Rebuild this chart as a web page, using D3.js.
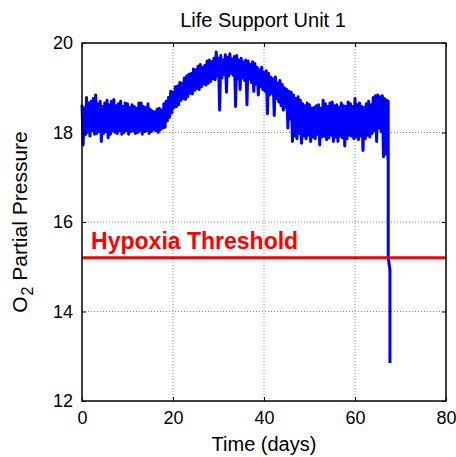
<!DOCTYPE html>
<html>
<head>
<meta charset="utf-8">
<script src="https://cdn.jsdelivr.net/npm/d3@7"></script>
<style>
  html, body { margin: 0; padding: 0; background: #fff; }
  svg { display: block; }
  text { font-family: "Liberation Sans", Arial, sans-serif; }
</style>
</head>
<body>
<div id="chart"></div>
<script>
// ---------------- data ----------------
const titleText = "Life Support Unit 1";
const xLabel = "Time (days)";
const xTicks = [0, 20, 40, 60, 80];
const yTicks = [12, 14, 16, 18, 20];
const xDomain = [0, 80];
const yDomain = [12, 20];

// O2 partial pressure, one sample every 0.25 day starting at day 0
const sampleStep = 0.25;
const o2Samples = [
  18.62, 17.72, 18.55, 17.95,  18.78, 18.00, 18.66, 17.92,  // d0-1
  18.70, 18.04, 18.76, 17.96,  18.84, 17.98, 18.64, 18.02,  // d2-3
  18.70, 17.80, 18.58, 17.98,  18.66, 18.02, 18.72, 17.88,  // d4-5
  18.62, 17.96, 18.70, 18.04,  18.74, 18.00, 18.60, 17.98,  // d6-7
  18.64, 18.04, 18.70, 17.96,  18.58, 18.00, 18.66, 18.04,  // d8-9
  18.64, 17.96, 18.56, 18.02,  18.62, 18.04, 18.58, 17.98,  // d10-11
  18.54, 18.00, 18.66, 18.04,  18.66, 17.96, 18.58, 18.02,  // d12-13
  18.56, 18.04, 18.64, 17.98,  18.52, 18.02, 18.48, 18.06,  // d14-15
  18.46, 18.04, 18.52, 18.00,  18.54, 18.06, 18.50, 18.10,  // d16-17
  18.64, 18.12, 18.70, 18.26,  18.78, 18.34, 18.92, 18.44,  // d18-19
  18.90, 18.56, 19.02, 18.58,  19.04, 18.62, 19.12, 18.72,  // d20-21
  19.10, 18.76, 19.22, 18.74,  19.26, 18.80, 19.30, 18.88,  // d22-23
  19.32, 18.86, 19.42, 18.94,  19.40, 18.98, 19.48, 18.96,  // d24-25
  19.52, 19.02, 19.46, 19.08,  19.50, 19.06, 19.60, 19.10,  // d26-27
  19.62, 19.14, 19.58, 19.20,  19.66, 19.18, 19.80, 19.26,  // d28-29
  19.66, 18.50, 19.72, 19.22,  19.62, 19.30, 19.74, 18.90,  // d30-31
  19.68, 19.26, 19.76, 19.32,  19.64, 19.28, 19.70, 18.58,  // d32-33
  19.72, 19.20, 19.62, 18.96,  19.66, 19.22, 19.58, 19.16,  // d34-35
  19.62, 18.62, 19.60, 19.20,  19.52, 19.12, 19.58, 18.92,  // d36-37
  19.54, 19.08, 19.46, 18.84,  19.40, 19.02, 19.46, 18.96,  // d38-39
  19.34, 18.92, 19.38, 18.42,  19.32, 18.84, 19.24, 18.88,  // d40-41
  19.20, 18.38, 19.24, 18.76,  19.10, 18.68, 19.16, 18.60,  // d42-43
  19.08, 18.50, 19.00, 18.56,  18.96, 18.10, 18.92, 18.30,  // d44-45
  18.90, 17.80, 18.84, 17.92,  18.76, 17.86, 18.80, 17.98,  // d46-47
  18.72, 17.76, 18.64, 17.92,  18.60, 17.86, 18.66, 17.94,  // d48-49
  18.62, 17.80, 18.54, 17.90,  18.56, 17.86, 18.60, 17.96,  // d50-51
  18.62, 17.72, 18.54, 17.90,  18.72, 17.92, 18.64, 17.84,  // d52-53
  18.58, 17.88, 18.66, 17.94,  18.68, 17.80, 18.60, 17.90,  // d54-55
  18.62, 17.80, 18.56, 17.92,  18.66, 17.88, 18.60, 17.70,  // d56-57
  18.58, 17.86, 18.68, 17.94,  18.64, 17.92, 18.58, 17.86,  // d58-59
  18.76, 17.90, 18.62, 17.84,  18.66, 17.92, 18.58, 17.60,  // d60-61
  18.56, 17.86, 18.64, 17.94,  18.70, 17.90, 18.62, 17.98,  // d62-63
  18.78, 18.04, 18.82, 17.80,  18.84, 18.10, 18.80, 18.02,  // d64-65
  18.82, 17.46, 18.76, 17.52,  18.72, 17.40                 // d66-67
];
// final failure drop
const dropDays = [67.3, 67.3, 67.68, 67.68];
const dropO2   = [18.70, 15.20, 14.93, 12.85];

const thresholdValue = 15.2;
const thresholdLabel = "Hypoxia Threshold";

// ---------------- layout ----------------
const W = 456, H = 457;
const margin = { top: 43, right: 10, bottom: 56, left: 82 };
const iw = W - margin.left - margin.right;
const ih = H - margin.top - margin.bottom;

const series = o2Samples.map((v, i) => ({ t: i * sampleStep, v }))
  .concat(dropDays.map((t, i) => ({ t, v: dropO2[i] })));

const svg = d3.select("#chart").append("svg")
  .attr("width", W).attr("height", H);

const x = d3.scaleLinear().domain(xDomain).range([margin.left, margin.left + iw]);
const y = d3.scaleLinear().domain(yDomain).range([margin.top + ih, margin.top]);

// grid
const grid = svg.append("g").attr("class", "grid");
grid.selectAll("line.gx").data(xTicks.slice(1, -1)).enter().append("line")
  .attr("x1", d => x(d)).attr("x2", d => x(d))
  .attr("y1", margin.top).attr("y2", margin.top + ih)
  .attr("stroke", "#8c8c8c").attr("stroke-width", 1).attr("stroke-dasharray", "1,2");
grid.selectAll("line.gy").data(yTicks.slice(1, -1)).enter().append("line")
  .attr("y1", d => y(d)).attr("y2", d => y(d))
  .attr("x1", margin.left).attr("x2", margin.left + iw)
  .attr("stroke", "#8c8c8c").attr("stroke-width", 1).attr("stroke-dasharray", "1,2");

// data line
const line = d3.line().x(d => x(d.t)).y(d => y(d.v));
svg.append("path").datum(series)
  .attr("d", line)
  .attr("fill", "none")
  .attr("stroke", "#0000ff")
  .attr("stroke-width", 3)
  .attr("stroke-linejoin", "round");

// threshold
svg.append("line")
  .attr("x1", x(xDomain[0])).attr("x2", x(xDomain[1]))
  .attr("y1", y(thresholdValue)).attr("y2", y(thresholdValue))
  .attr("stroke", "#ff0000").attr("stroke-width", 3);
svg.append("text")
  .attr("x", x(2)).attr("y", y(thresholdValue) - 9)
  .attr("fill", "#ff0000")
  .attr("font-weight", "bold")
  .attr("font-size", "23px")
  .text(thresholdLabel);

// axes (ticks inward, all four sides)
const tickLen = 4;
const xAxisB = d3.axisBottom(x).tickValues(xTicks).tickSize(-tickLen).tickPadding(10).tickFormat(d3.format("d"));
const xAxisT = d3.axisTop(x).tickValues(xTicks).tickSize(-tickLen).tickFormat("");
const yAxisL = d3.axisLeft(y).tickValues(yTicks).tickSize(-tickLen).tickPadding(9).tickFormat(d3.format("d"));
const yAxisR = d3.axisRight(y).tickValues(yTicks).tickSize(-tickLen).tickFormat("");

function styleAxis(g) {
  g.select(".domain").remove();
  g.selectAll(".tick line").attr("stroke", "#000").attr("stroke-width", 1);
  g.selectAll(".tick text").attr("fill", "#000").attr("font-size", "18px")
    .attr("font-family", '"Liberation Sans", Arial, sans-serif');
}
svg.append("g").attr("transform", `translate(0,${margin.top + ih})`).call(xAxisB).call(styleAxis);
svg.append("g").attr("transform", `translate(0,${margin.top})`).call(xAxisT).call(styleAxis);
svg.append("g").attr("transform", `translate(${margin.left},0)`).call(yAxisL).call(styleAxis);
svg.append("g").attr("transform", `translate(${margin.left + iw},0)`).call(yAxisR).call(styleAxis);

// box
svg.append("rect")
  .attr("x", margin.left).attr("y", margin.top)
  .attr("width", iw).attr("height", ih)
  .attr("fill", "none").attr("stroke", "#000").attr("stroke-width", 1.5);

// title
svg.append("text")
  .attr("x", margin.left + iw / 2 - 1).attr("y", 27)
  .attr("text-anchor", "middle").attr("font-size", "20px").attr("fill", "#000")
  .text(titleText);

// x label
svg.append("text")
  .attr("x", margin.left + iw / 2).attr("y", 451)
  .attr("text-anchor", "middle").attr("font-size", "20px").attr("fill", "#000")
  .text(xLabel);

// y label with subscript
const yl = svg.append("text")
  .attr("transform", `translate(27,${margin.top + ih / 2}) rotate(-90)`)
  .attr("text-anchor", "middle").attr("font-size", "21px").attr("fill", "#000");
yl.append("tspan").text("O");
yl.append("tspan").attr("font-size", "16px").attr("dy", 6).attr("dx", 1).text("2");
yl.append("tspan").attr("dy", -6).text(" Partial Pressure");
</script>
</body>
</html>
